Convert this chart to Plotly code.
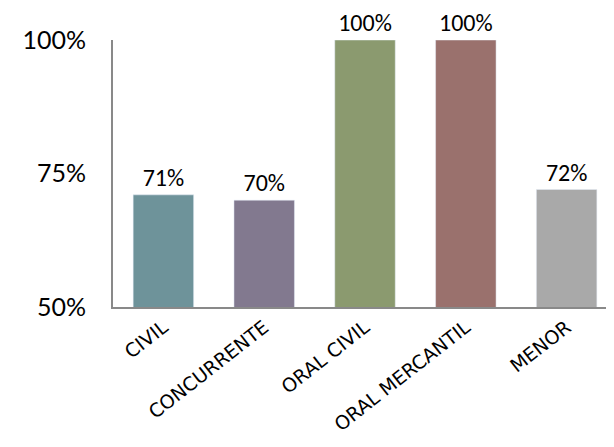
import plotly.graph_objects as go

categories = ["CIVIL", "CONCURRENTE", "ORAL CIVIL", "ORAL MERCANTIL", "MENOR"]
values = [0.71, 0.70, 1.00, 1.00, 0.72]
labels = ["71%", "70%", "100%", "100%", "72%"]
colors = ["#6E939A", "#82798F", "#8B9A6F", "#9A716D", "#A9A9A9"]
y_ticks = [0.5, 0.75, 1.0]
y_tick_labels = ["50%", "75%", "100%"]

fig = go.Figure(go.Bar(
    x=categories, y=values, marker_color=colors, width=0.6,
    text=labels, textposition="outside", cliponaxis=False,
    textfont=dict(family="Carlito, Liberation Sans, sans-serif", size=24, color="#000"),
))

fig.update_layout(
    width=606, height=439,
    margin=dict(l=105, r=0, t=32, b=140),
    paper_bgcolor="white", plot_bgcolor="white",
    showlegend=False,
    font=dict(family="Lato, sans-serif", color="#000"),
)
fig.update_xaxes(
    range=[-0.5, 4.47], showline=True, linecolor="#898989", linewidth=2,
    tickangle=-38, tickfont=dict(size=19, family="DejaVu Sans, sans-serif"), ticks="",
    showgrid=False, automargin=False,
)
fig.update_yaxes(
    range=[0.5, 1.0], tickvals=y_ticks, ticktext=y_tick_labels,
    showline=True, linecolor="#898989", linewidth=2, showgrid=False,
    tickfont=dict(size=25, family="Lato, sans-serif"), ticks="",
    ticklabelstandoff=20, zeroline=False, automargin=False,
)

fig.write_html("out.html")
